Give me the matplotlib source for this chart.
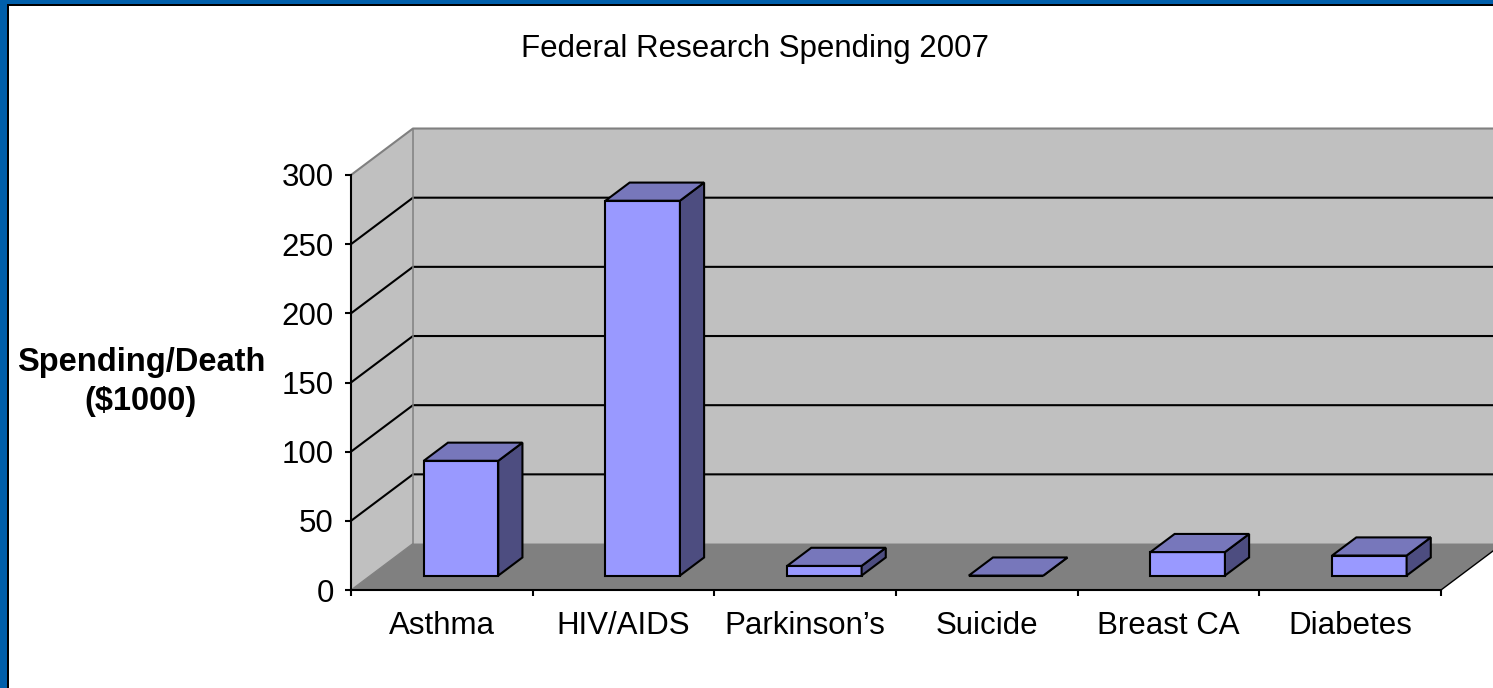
import matplotlib.pyplot as plt
from matplotlib.patches import Polygon, Rectangle

# Spending per death, in $1000
categories = ["Asthma", "HIV/AIDS", "Parkinson\u2019s", "Suicide", "Breast CA", "Diabetes"]
spending = [83, 271, 7, 0, 17, 14.5]
y_ticks = [0, 50, 100, 150, 200, 250, 300]

W, H = 1493, 688
FRONT, TOP, SIDE = "#9999ff", "#7777bb", "#4d4d80"
WALL, FLOOR, EDGE = "#c0c0c0", "#808080", "#808080"

# oblique depth offset of the 3d box, in data units
DX, DY = 0.341, 33.6
BAR_W = 0.41
D0, D1 = 0.31, 0.70
LW = 1.5

plt.rcParams["font.family"] = ["Liberation Sans", "DejaVu Sans"]

fig = plt.figure(figsize=(W / 100, H / 100), dpi=100)
fig.patch.set_facecolor("white")

ax = fig.add_axes([351 / W, (H - 590) / H, 1090 / W, 415 / H])
ax.set_xlim(0, len(categories))
ax.set_ylim(0, 300)
ax.patch.set_visible(False)
for s in ("top", "right"):
    ax.spines[s].set_visible(False)
for s in ("left", "bottom"):
    ax.spines[s].set_linewidth(LW)
    ax.spines[s].set_zorder(6)

n = len(categories)
ymax = y_ticks[-1]


def poly(pts, fc, ec="none", lw=0, z=1):
    ax.add_patch(Polygon(pts, closed=True, facecolor=fc, edgecolor=ec,
                         linewidth=lw, zorder=z, clip_on=False, joinstyle="miter"))


def line(xs, ys, color, lw=1.0, z=2):
    ax.plot(xs, ys, color=color, lw=lw, zorder=z, clip_on=False, solid_capstyle="butt")


# walls and floor
poly([(DX, DY), (n + DX, DY), (n + DX, ymax + DY), (DX, ymax + DY)], WALL, z=1)
poly([(0, 0), (DX, DY), (DX, ymax + DY), (0, ymax)], WALL, z=1)
poly([(0, 0), (n, 0), (n + DX, DY), (DX, DY)], FLOOR, z=1.5)

# gridlines across the side and back walls
for v in y_ticks[1:-1]:
    line([0, DX, n + DX], [v, v + DY, v + DY], "black", lw=LW, z=2)

line([0, DX, n + DX], [ymax, ymax + DY, ymax + DY], EDGE, lw=LW, z=2)
line([DX, DX], [DY, ymax + DY], EDGE, lw=1.1, z=2)
line([0, DX], [0, DY], EDGE, lw=0.9, z=2)
line([n, n + DX], [0, DY], "black", lw=1.0, z=2)

# bars
ddx, ddy = (D1 - D0) * DX, (D1 - D0) * DY
for i, v in enumerate(spending):
    x0 = i + 0.5 - BAR_W / 2 + D0 * DX
    x1 = x0 + BAR_W
    yb = D0 * DY
    yt = yb + v
    poly([(x0, yb), (x1, yb), (x1, yt), (x0, yt)], FRONT, "black", LW, z=3)
    poly([(x1, yb), (x1 + ddx, yb + ddy), (x1 + ddx, yt + ddy), (x1, yt)], SIDE, "black", LW, z=3)
    poly([(x0, yt), (x1, yt), (x1 + ddx, yt + ddy), (x0 + ddx, yt + ddy)], TOP, "black", LW, z=3)

# axes ticks and labels
ax.set_yticks(y_ticks)
ax.set_yticklabels([str(t) for t in y_ticks], fontsize=22.5)
ax.tick_params(axis="y", length=4.5, width=LW, pad=8)

ax.set_xticks(range(n + 1))
ax.set_xticklabels([])
ax.set_xticks([i + 0.5 for i in range(n)], minor=True)
ax.set_xticklabels(categories, minor=True, fontsize=22.5)
ax.tick_params(axis="x", which="major", length=4.5, width=LW)
ax.tick_params(axis="x", which="minor", length=0, pad=15)

fig.text(755 / W, (H - 57) / H, "Federal Research Spending 2007", fontsize=22.5,
         ha="center", va="baseline")
fig.text(141 / W, (H - 371) / H, "Spending/Death", fontsize=23.5, fontweight="bold",
         ha="center", va="baseline")
fig.text(141 / W, (H - 410) / H, "($1000)", fontsize=23.5, fontweight="bold",
         ha="center", va="baseline")

# slide frame on the left and top
fig.patches.append(Rectangle((0, 0), 8.7 / W, 1, transform=fig.transFigure,
                             facecolor="black", edgecolor="none", zorder=10))
fig.patches.append(Rectangle((0, 0), 6.7 / W, 1, transform=fig.transFigure,
                             facecolor="#005fab", edgecolor="none", zorder=11))
fig.patches.append(Rectangle((0, 1 - 6 / H), 1, 6 / H, transform=fig.transFigure,
                             facecolor="black", edgecolor="none", zorder=10))
fig.patches.append(Rectangle((0, 1 - 4 / H), 1, 4 / H, transform=fig.transFigure,
                             facecolor="#005fab", edgecolor="none", zorder=11))

fig.savefig("out.png", dpi=100)
